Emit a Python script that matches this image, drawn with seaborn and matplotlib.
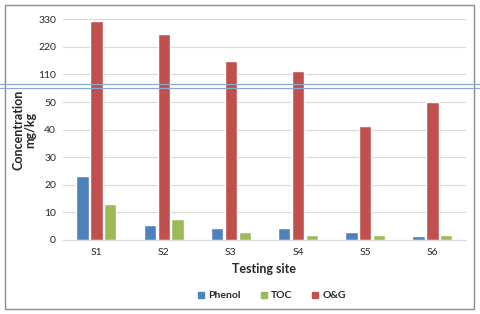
import numpy as np
import pandas as pd
import matplotlib.pyplot as plt
import seaborn as sns
from matplotlib.lines import Line2D
from matplotlib.patches import Rectangle

sites = ["S1", "S2", "S3", "S4", "S5", "S6"]
phenol = [23.2, 5.5, 4.2, 4.4, 3.0, 1.6]
og = [324, 270, 165, 124, 41.5, 50.6]
toc = [13.1, 7.6, 2.9, 1.9, 1.8, 1.9]

# broken axis: tick values placed at equal spacing
tick_vals = [0, 10, 20, 30, 40, 50, 110, 220, 330]
tick_pos = np.arange(len(tick_vals))

df = pd.DataFrame({
    "site": sites * 3,
    "value": phenol + og + toc,
    "param": ["Phenol"] * 6 + ["O&G"] * 6 + ["TOC"] * 6,
})

colors = {"Phenol": "#4F81BD", "O&G": "#C0504D", "TOC": "#9BBB59"}

sns.set_style("white")
plt.rcParams["font.family"] = ["Lato", "DejaVu Sans"]

fig = plt.figure(figsize=(4.8, 3.14), dpi=100)
ax = fig.add_axes([0.131, 0.2357, 0.84, 0.7028])

sns.barplot(data=df, x="site", y="value", hue="param",
            hue_order=["Phenol", "O&G", "TOC"], palette=colors,
            width=0.62, gap=0.12, saturation=1, ax=ax, legend=False)


def fwd(v):
    return np.interp(v, tick_vals, tick_pos)


def inv(p):
    return np.interp(p, tick_pos, tick_vals)


ax.set_yscale("function", functions=(fwd, inv))
ax.set_ylim(0, 330)
ax.set_yticks(tick_vals)
ax.set_yticklabels([str(v) for v in tick_vals], fontsize=7.5)
ax.set_xlim(-0.5, 5.5)
ax.tick_params(axis="x", labelsize=7.5, length=0, pad=6)
ax.tick_params(axis="y", length=0, pad=5)
ax.grid(axis="y", color="#d9d9d9", lw=0.8)
ax.set_axisbelow(True)
for s in ["top", "right", "left"]:
    ax.spines[s].set_visible(False)
ax.spines["bottom"].set_color("#d9d9d9")

ax.set_xlabel("Testing site", fontsize=9, fontweight="bold", labelpad=4)
ax.set_ylabel("Concentration\nmg/kg", fontsize=9, fontweight="bold",
              linespacing=1.0)
ax.yaxis.set_label_coords(-0.066, 0.5)

handles = [Line2D([], [], ls="none", marker="s", markersize=5,
                  color=colors[k]) for k in ["Phenol", "TOC", "O&G"]]
fig.legend(handles, ["Phenol", "TOC", "O&G"], loc="center",
           bbox_to_anchor=(0.565, 0.058), ncol=3, frameon=False,
           handlelength=0.8, handletextpad=0.3, columnspacing=1.8,
           prop={"weight": "bold", "size": 7.5})

# break lines across the figure
for yy in [0.734, 0.7207]:
    fig.add_artist(Line2D([0, 1], [yy, yy], color="#8eaacb", lw=0.9))

fig.add_artist(Rectangle((5 / 480, 5 / 314), 469 / 480, 304 / 314,
                         fill=False, edgecolor="#8c8c8c", lw=1))

fig.savefig("out.png", dpi=100)
